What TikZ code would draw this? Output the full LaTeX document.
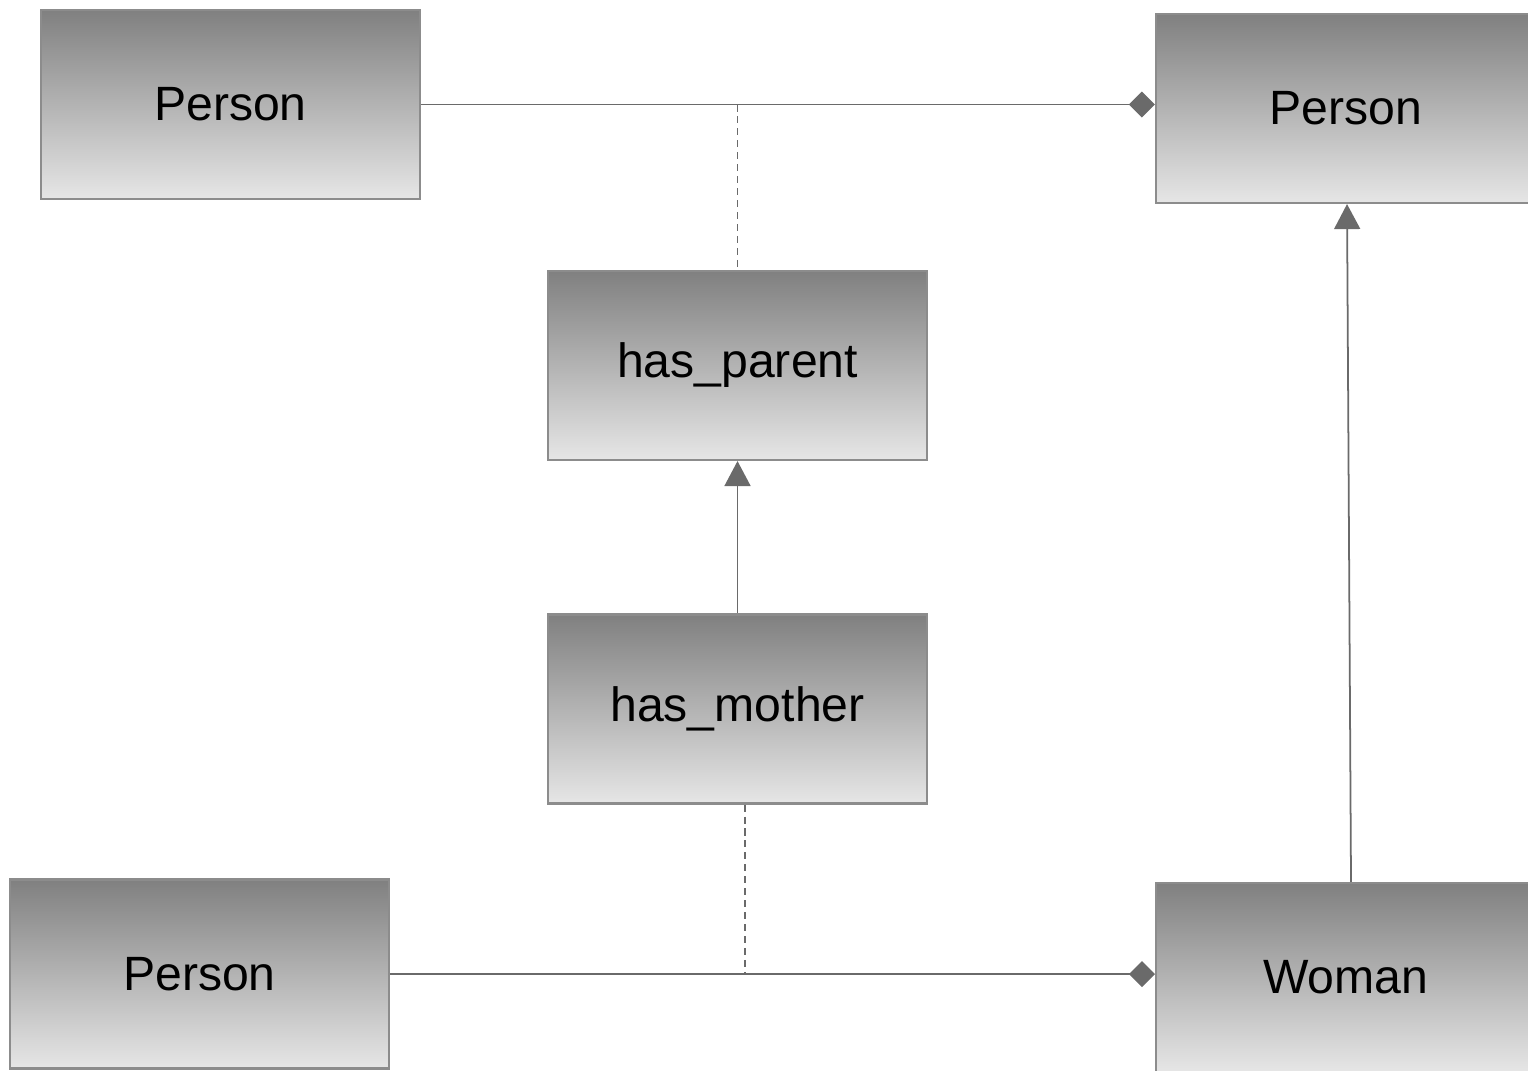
\documentclass[tikz,border=0pt]{standalone}
\usepackage{fontspec}
\setmainfont{Liberation Sans}
\usetikzlibrary{arrows.meta}
\definecolor{boxtop}{HTML}{808080}
\definecolor{boxbottom}{HTML}{E6E6E6}
\definecolor{boxline}{HTML}{8C8C8C}
\definecolor{linkline}{HTML}{6A6A6A}
\begin{document}
\begin{tikzpicture}[
    classbox/.style={draw=boxline, line width=0.6pt, top color=boxtop, bottom color=boxbottom,
        minimum width=3.79cm, minimum height=1.89cm, inner sep=0pt, font=\fontsize{13.7}{16}\selectfont},
    link/.style={draw=linkline, line width=0.5pt},
    dashlink/.style={link, dash pattern=on 2pt off 1.4pt},
    composite/.style={link, -{Diamond[length=0.26cm, width=0.26cm, fill=linkline]}},
    isa/.style={link, -{Triangle[length=0.25cm, width=0.26cm, fill=linkline]}}]
    \useasboundingbox (0, 0) rectangle (15.28, -10.70);

    % classes
    \node (persontl) at (2.305, -1.045) [classbox] {Person};
    \node (persontr) at (13.455, -1.085) [classbox] {Person};
    \node (persondl) at (1.995, -9.74) [classbox] {Person};
    \node (woman) at (13.455, -9.775) [classbox] {Woman};

    % relations
    \node (hasparent) at (7.375, -3.655) [classbox] {has\_parent};
    \node (hasmother) at (7.375, -7.09) [classbox] {has\_mother};

    % has_parent
    \draw [composite] (persontl.east) -- (persontl.east -| persontr.west);
    \coordinate (parentjoin) at (hasparent.north |- persontl.east);
    \draw [dashlink] (parentjoin) -- (hasparent.north);

    % has_mother
    \draw [composite] (persondl.east) -- (persondl.east -| woman.west);
    \coordinate (motherfoot) at ([xshift=0.075cm]hasmother.south);
    \coordinate (motherjoin) at (motherfoot |- persondl.east);
    \draw [dashlink] (motherfoot) -- (motherjoin);

    % subsumption
    \draw [isa] (hasmother.north) -- (hasparent.south);
    \draw [isa] ([xshift=0.055cm]woman.north) -- ([xshift=0.015cm]persontr.south);
\end{tikzpicture}
\end{document}
